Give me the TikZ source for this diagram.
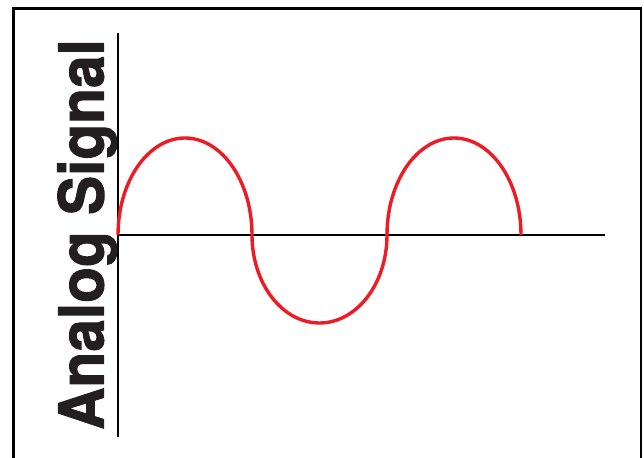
\documentclass[tikz,border=0pt]{standalone}
\usepackage{fontspec}
\newfontfamily\heavyfont{TeX Gyre Heros Bold}[FakeBold=1.6]
\definecolor{sigred}{HTML}{ED1C24}
\definecolor{ink}{HTML}{231F20}
\begin{document}
\begin{tikzpicture}[x=1pt,y=-1pt,
  frame/.style={draw=black,line width=2.6pt},
  axis/.style={draw=black,line width=1.4pt},
  signal/.style={draw=sigred,line width=3.4pt},
  title/.style={font=\heavyfont\fontsize{62}{62}\selectfont,inner sep=0pt,text=ink}]
\useasboundingbox (0,0) rectangle (644,457);
\begin{scope}
\clip (0,0) rectangle (644,457);
\draw[frame] (13.3,8.3) rectangle (641,470);
\end{scope}
\coordinate (vtop) at (118,33);
\coordinate (vbot) at (118,437);
\coordinate (origin) at (118,235);
\coordinate (hend) at (605,235);
\draw[axis] (vtop) -- (vbot);
\draw[axis] (origin) -- (hend);
\draw[signal] (origin) arc[start angle=180,end angle=360,x radius=67,y radius=97]
  arc[start angle=180,end angle=0,x radius=67.5,y radius=88]
  arc[start angle=180,end angle=360,x radius=67,y radius=97];
\node[title,rotate=90,anchor=base west] (lbl) at (103.5,430) {\scalebox{0.945}[1]{Analog Signal}};
\end{tikzpicture}
\end{document}
